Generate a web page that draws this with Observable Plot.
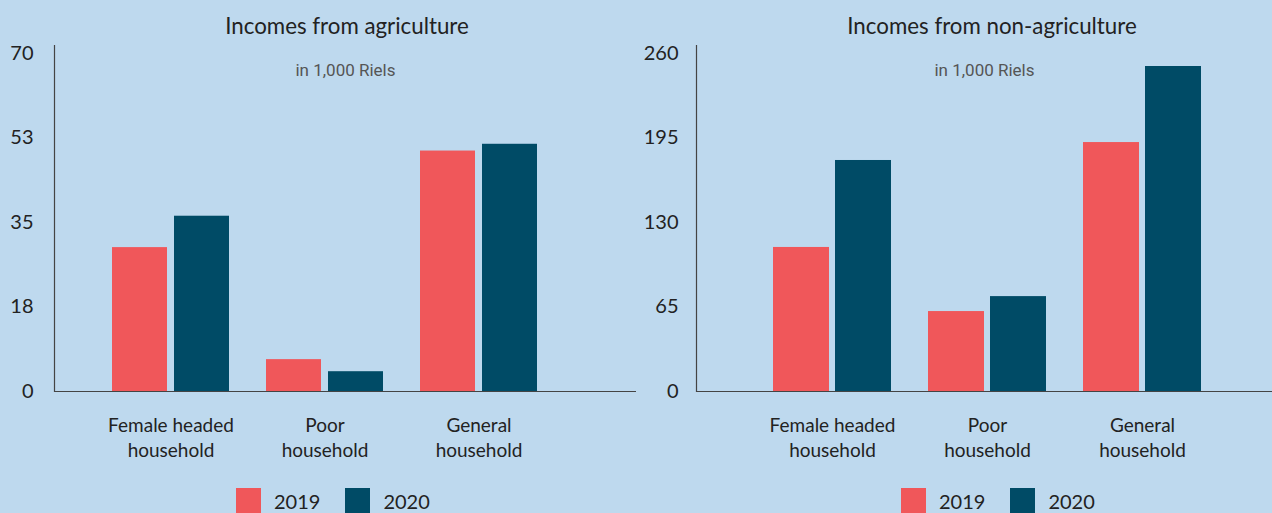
<!DOCTYPE html>
<html>
<head>
<meta charset="utf-8">
<script src="https://cdn.jsdelivr.net/npm/d3@7"></script>
<script src="https://cdn.jsdelivr.net/npm/@observablehq/plot@0.6"></script>
<style>
  html, body { margin: 0; padding: 0; background: #bed9ee; }
  #wrap { display: flex; width: 1272px; height: 513px; overflow: hidden; background: #bed9ee; }
  .panel { position: relative; width: 636px; height: 513px; }
  .title { position: absolute; top: 12px; transform: translateX(-50%); white-space: nowrap;
           font-family: Lato, sans-serif; font-size: 22.3px; line-height: 28px; color: #222; }
  .chart { position: absolute; top: 40px; left: 0; }
  .legend { position: absolute; top: 488px; display: flex; align-items: center;
            font-family: Lato, sans-serif; font-size: 20px; color: #222; }
  .sw { width: 25px; height: 25px; display: inline-block; }
  .lab { margin-left: 13px; margin-right: 25px; line-height: 24px; }
</style>
</head>
<body>
<div id="wrap"></div>
<script>
// ---- data ----
const categories = ["Female headed household", "Poor household", "General household"];
const categoryLabels = ["Female headed\nhousehold", "Poor\nhousehold", "General\nhousehold"];
const years = ["2019", "2020"];
const yearColors = ["#f0575a", "#004b66"];

const agri2019 = [29.8, 6.6, 49.8];
const agri2020 = [36.3, 4.1, 51.2];
const agriTicks = [0, 17.5, 35, 52.5, 70];
const agriTickLabels = ["0", "18", "35", "53", "70"];

const nonAgri2019 = [110.8, 61.5, 191.5];
const nonAgri2020 = [177.7, 73, 250];
const nonAgriTicks = [0, 65, 130, 195, 260];
const nonAgriTickLabels = ["0", "65", "130", "195", "260"];

const subtitle = "in 1,000 Riels";

const panels = [
  { title: "Incomes from agriculture", titleX: 347, v2019: agri2019, v2020: agri2020,
    ticks: agriTicks, tickLabels: agriTickLabels, marginLeft: 54, tickPadding: 21,
    paddingOuter: 0.497, align: 0.37, legendLeft: 236 },
  { title: "Incomes from non-agriculture", titleX: 356, v2019: nonAgri2019, v2020: nonAgri2020,
    ticks: nonAgriTicks, tickLabels: nonAgriTickLabels, marginLeft: 60, tickPadding: 18,
    paddingOuter: 0.4774, align: 0.52, legendLeft: 265 }
];

const wrap = document.getElementById("wrap");

for (const p of panels) {
  const panel = document.createElement("div");
  panel.className = "panel";

  const t = document.createElement("div");
  t.className = "title";
  t.style.left = p.titleX + "px";
  t.textContent = p.title;
  panel.appendChild(t);

  const rows2019 = categories.map((c, i) => ({ cat: c, v: p.v2019[i] }));
  const rows2020 = categories.map((c, i) => ({ cat: c, v: p.v2020[i] }));
  const yMax = p.ticks[p.ticks.length - 1];

  const chart = Plot.plot({
    width: 636,
    height: 440,
    marginLeft: p.marginLeft,
    marginRight: 0,
    marginTop: 5,
    marginBottom: 89,
    style: { background: "transparent", fontFamily: "Lato, sans-serif", color: "#222", overflow: "visible" },
    x: { domain: categories, paddingInner: 0.2387, paddingOuter: p.paddingOuter, align: p.align },
    y: { domain: [0, yMax], insetTop: 8 },
    marks: [
      Plot.barY(rows2019, { x: "cat", y: "v", fill: yearColors[0], insetRight: 62 }),
      Plot.barY(rows2020, { x: "cat", y: "v", fill: yearColors[1], insetLeft: 62 }),
      Plot.frame({ anchor: "left", stroke: "#444", strokeWidth: 1.2 }),
      Plot.axisY({ ticks: p.ticks, tickFormat: (d) => p.tickLabels[p.ticks.indexOf(d)],
                   tickSize: 0, tickPadding: p.tickPadding, fontSize: 20, label: null }),
      Plot.axisX({ tickSize: 0, tickPadding: 23, fontSize: 19, lineHeight: 1.32, label: null,
                   tickFormat: (d) => categoryLabels[categories.indexOf(d)] }),
      Plot.ruleY([0], { stroke: "#444", strokeWidth: 1.2 }),
      Plot.text([subtitle], { frameAnchor: "top", dy: 18, fontSize: 17, fill: "#555",
                              fontFamily: "Roboto, sans-serif" })
    ]
  });
  chart.classList.add("chart");
  panel.appendChild(chart);

  const lg = document.createElement("div");
  lg.className = "legend";
  lg.style.left = p.legendLeft + "px";
  years.forEach((y, i) => {
    const sw = document.createElement("span");
    sw.className = "sw";
    sw.style.background = yearColors[i];
    const lab = document.createElement("span");
    lab.className = "lab";
    lab.textContent = y;
    lg.appendChild(sw);
    lg.appendChild(lab);
  });
  panel.appendChild(lg);

  wrap.appendChild(panel);
}
</script>
</body>
</html>
